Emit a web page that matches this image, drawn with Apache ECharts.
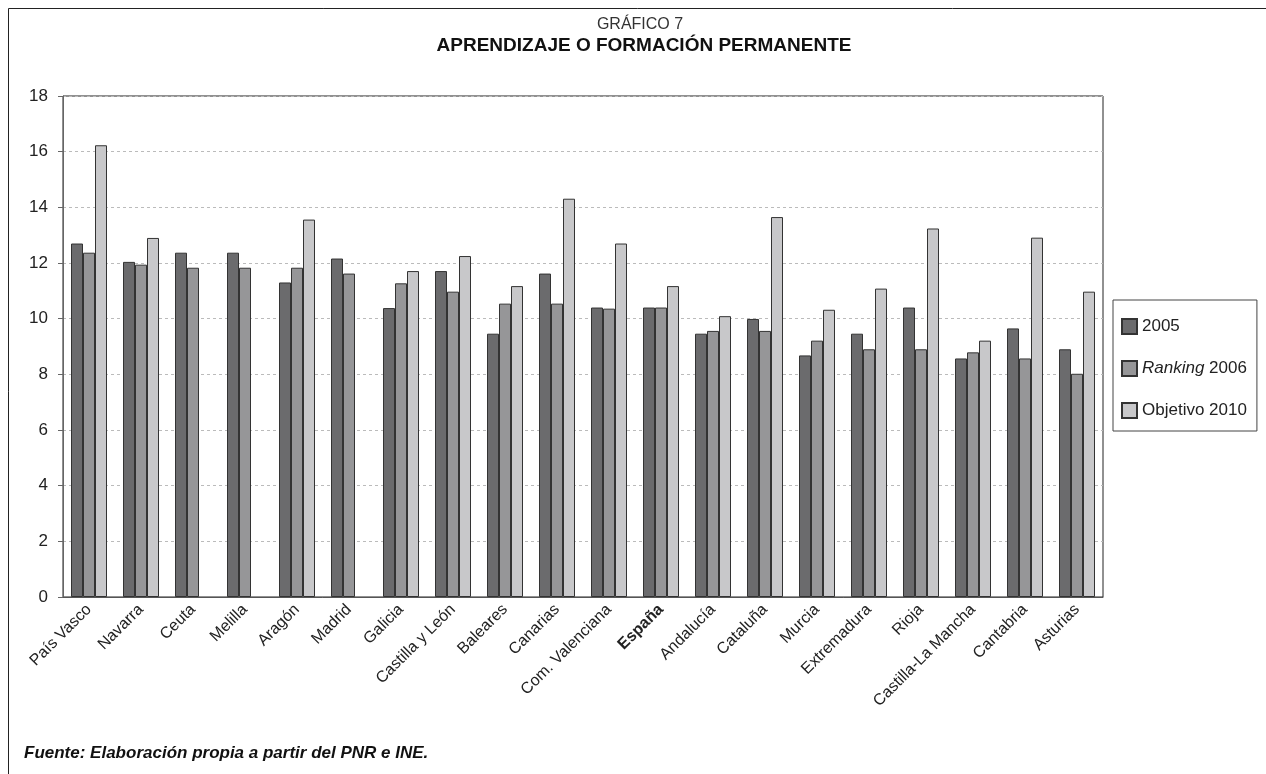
<!DOCTYPE html>
<html>
<head>
<meta charset="utf-8">
<script src="https://cdn.jsdelivr.net/npm/echarts@6/dist/echarts.min.js"></script>
<style>
  html, body { margin: 0; padding: 0; background: #fff; }
  #chart { width: 1266px; height: 774px; }
</style>
</head>
<body>
<div id="chart"></div>
<script>
// datos
const regiones = ['País Vasco', 'Navarra', 'Ceuta', 'Melilla', 'Aragón', 'Madrid', 'Galicia',
  'Castilla y León', 'Baleares', 'Canarias', 'Com. Valenciana', 'España', 'Andalucía', 'Cataluña',
  'Murcia', 'Extremadura', 'Rioja', 'Castilla-La Mancha', 'Cantabria', 'Asturias'];
const valores2005 = [12.7, 12.04, 12.37, 12.37, 11.3, 12.16, 10.38, 11.71, 9.46, 11.62, 10.4, 10.4,
  9.46, 9.99, 8.68, 9.46, 10.4, 8.57, 9.65, 8.9];
const ranking2006 = [12.37, 11.94, 11.83, 11.83, 11.83, 11.62, 11.27, 10.97, 10.54, 10.54, 10.36, 10.4,
  9.56, 9.56, 9.21, 8.9, 8.9, 8.79, 8.57, 8.02];
const objetivo2010 = [16.23, 12.9, null, null, 13.56, null, 11.71, 12.25, 11.17, 14.31, 12.7, 11.17,
  10.09, 13.65, 10.32, 11.08, 13.24, 9.21, 12.91, 10.97];
const ticksY = [0, 2, 4, 6, 8, 10, 12, 14, 16, 18];

const fuente = '"Liberation Sans", Arial, sans-serif';
const chart = echarts.init(document.getElementById('chart'));

const barra = (name, data, color) => ({
  name: name,
  type: 'bar',
  data: data,
  barWidth: 12,
  barGap: '0%',
  itemStyle: { color: color, borderColor: '#333', borderWidth: 1 }
});

chart.setOption({
  animation: false,
  textStyle: { fontFamily: fuente },
  title: [
    { text: 'GRÁFICO 7', left: 640, top: 17, textAlign: 'center', padding: 0,
      textStyle: { fontSize: 16, fontWeight: 'normal', color: '#333', fontFamily: fuente, lineHeight: 16 } },
    { text: 'APRENDIZAJE O FORMACIÓN PERMANENTE', left: 644, top: 36, textAlign: 'center', padding: 0,
      textStyle: { fontSize: 19, fontWeight: 'bold', color: '#111', fontFamily: fuente, lineHeight: 19 } }
  ],
  graphic: [
    { type: 'rect', shape: { x: 8.5, y: 8.5, width: 1400, height: 900 },
      style: { fill: 'none', stroke: '#222', lineWidth: 1 }, silent: true },
    { type: 'text', left: 24, top: 745,
      style: { text: 'Fuente: Elaboración propia a partir del PNR e INE.', fill: '#111',
        font: 'italic bold 17px ' + fuente } }
  ],
  legend: {
    orient: 'vertical',
    left: 1113,
    top: 300,
    padding: [18, 10, 12, 8],
    itemWidth: 15,
    itemHeight: 15,
    itemGap: 25,
    icon: 'rect',
    borderColor: '#444',
    borderWidth: 1,
    borderRadius: 0,
    data: ['2005', 'Ranking 2006', 'Objetivo 2010'],
    formatter: n => n === 'Ranking 2006' ? '{i|Ranking} 2006' : n,
    textStyle: {
      fontSize: 17, color: '#222', fontFamily: fuente,
      rich: { i: { fontStyle: 'italic', fontSize: 17, color: '#222', fontFamily: fuente } }
    }
  },
  grid: {
    left: 63, right: 163, top: 96, bottom: 177,
    show: true, borderColor: '#222', borderWidth: 1
  },
  xAxis: {
    type: 'category',
    data: regiones,
    axisLine: { lineStyle: { color: '#555' } },
    axisTick: { lineStyle: { color: '#555' }, length: 5 },
    axisLabel: {
      rotate: 45, fontSize: 16, color: '#222', margin: 10, interval: 0,
      formatter: v => v === 'España' ? '{b|España}' : v,
      rich: { b: { fontWeight: 'bold', fontSize: 16, color: '#222' } }
    }
  },
  yAxis: {
    type: 'value',
    min: ticksY[0],
    max: ticksY[ticksY.length - 1],
    interval: 2,
    axisLine: { show: true, lineStyle: { color: '#666' } },
    axisTick: { show: true, lineStyle: { color: '#666' }, length: 5 },
    axisLabel: { fontSize: 17, color: '#222', margin: 15 },
    splitLine: { lineStyle: { color: '#bbb', type: [3, 3] } }
  },
  series: [
    barra('2005', valores2005, '#6b6b6d'),
    barra('Ranking 2006', ranking2006, '#969698'),
    barra('Objetivo 2010', objetivo2010, '#c8c8ca')
  ]
});
</script>
</body>
</html>
